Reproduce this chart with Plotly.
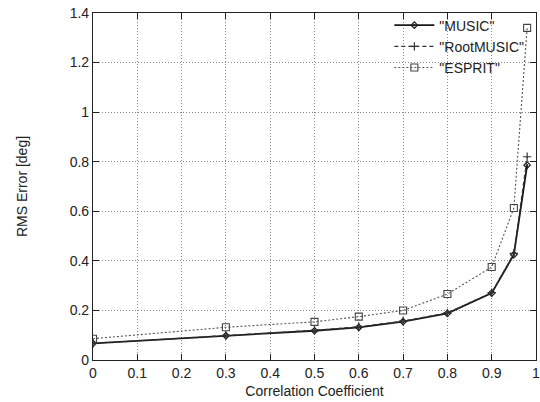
import plotly.graph_objects as go

corr = [0, 0.3, 0.5, 0.6, 0.7, 0.8, 0.9, 0.95, 0.98]
music = [0.067, 0.098, 0.118, 0.132, 0.155, 0.188, 0.27, 0.425, 0.786]
rootmusic = [0.067, 0.099, 0.120, 0.134, 0.157, 0.190, 0.272, 0.43, 0.82]
esprit = [0.086, 0.132, 0.154, 0.175, 0.200, 0.266, 0.375, 0.613, 1.34]

x_ticks = [0, 0.1, 0.2, 0.3, 0.4, 0.5, 0.6, 0.7, 0.8, 0.9, 1]
x_labels = ["0", "0.1", "0.2", "0.3", "0.4", "0.5", "0.6", "0.7", "0.8", "0.9", "1"]
y_ticks = [0, 0.2, 0.4, 0.6, 0.8, 1.0, 1.2, 1.4]
y_labels = ["0", "0.2", "0.4", "0.6", "0.8", "1", "1.2", "1.4"]

FONT = "Liberation Sans, Arial, Helvetica, sans-serif"

fig = go.Figure()
fig.add_trace(go.Scatter(
    x=corr, y=music, name='"MUSIC"', mode="lines+markers",
    line=dict(color="#1a1a1a", width=1.8, dash="solid"),
    marker=dict(symbol="diamond-open-dot", size=5, color="#1a1a1a", line=dict(width=1.2)),
))
fig.add_trace(go.Scatter(
    x=corr, y=rootmusic, name='"RootMUSIC"', mode="lines+markers",
    line=dict(color="#333333", width=1.1, dash="4px,3px"),
    marker=dict(symbol="cross-thin", size=6, color="#333333", line=dict(width=1.2, color="#333333")),
))
fig.add_trace(go.Scatter(
    x=corr, y=esprit, name='"ESPRIT"', mode="lines+markers",
    line=dict(color="#555555", width=1.1, dash="2px,2px"),
    marker=dict(symbol="square-open", size=7, color="#444444", line=dict(width=1.1)),
))

axis_common = dict(
    showline=True, linecolor="#222222", linewidth=1.2, mirror="ticks",
    ticks="inside", ticklen=6, tickcolor="#222222", tickwidth=1,
    showgrid=True, gridcolor="#8a8a8a", griddash="1px,2px", gridwidth=1,
    zeroline=False, automargin=False,
    ticklabeloverflow="allow",
    tickfont=dict(family=FONT, size=14, color="#222222"),
)

fig.update_xaxes(
    range=[0, 1], tickvals=x_ticks, ticktext=x_labels,
    title=dict(text="Correlation Coefficient", font=dict(family=FONT, size=14, color="#222222"), standoff=6),
    **axis_common,
)
fig.update_yaxes(
    range=[0, 1.4], tickvals=y_ticks, ticktext=y_labels,
    title=dict(text="RMS Error [deg]", font=dict(family=FONT, size=14, color="#222222"), standoff=38),
    **axis_common,
)

fig.update_layout(
    width=540, height=402,
    margin=dict(l=93, r=4, t=13, b=42),
    paper_bgcolor="white", plot_bgcolor="white",
    font=dict(family=FONT, size=14, color="#222222"),
    legend=dict(
        x=0.985, y=1.01, xanchor="right", yanchor="top",
        bgcolor="rgba(255,255,255,0)", borderwidth=0,
        font=dict(family=FONT, size=14, color="#222222"),
        tracegroupgap=0, itemwidth=40,
    ),
)

fig.write_html("out.html")
